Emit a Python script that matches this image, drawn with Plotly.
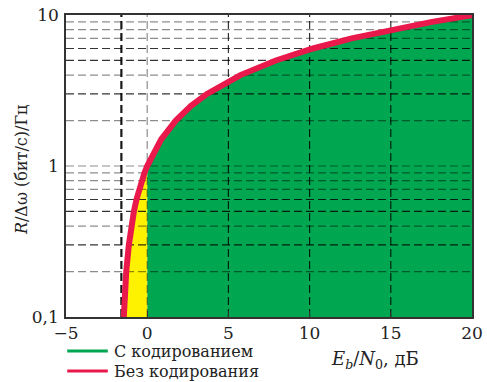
import plotly.graph_objects as go

# Spectral efficiency R/Δω (bit/s/Hz) and the required Eb/N0 (dB) on the limit curve
spectral_eff = [0.1, 0.15, 0.2, 0.3, 0.4, 0.5, 0.6, 0.7, 0.8, 0.9, 1.0,
                1.5, 2.0, 2.5, 3.0, 4.0, 5.0, 6.0, 7.0, 8.0, 9.0, 10.0]
ebn0_db = [-1.44, -1.36, -1.29, -1.13, -0.98, -0.82, -0.66, -0.50, -0.33, -0.17, 0.0,
           0.86, 1.76, 2.70, 3.68, 5.74, 7.92, 10.21, 12.59, 15.03, 17.54, 20.10]

shannon_limit_db = -1.59

x_tick_vals = [-5, 0, 5, 10, 15, 20]
x_tick_text = ["\u22125", "0", "5", "10", "15", "20"]
y_tick_vals = [0.1, 1, 10]
y_tick_text = ["0,1", "1", "10"]

x_range = [-5, 20]
y_range = [0.1, 10]

# horizontal grid levels (log minor lines), split by shade
h_grid_dark = [0.3, 0.5, 0.6, 3, 5, 6]
h_grid_gray = [0.2, 0.4, 0.7, 0.8, 0.9, 1, 2, 4, 7, 8, 9]
v_grid_dark = [5, 10, 15]
v_grid_gray = [0]

legend_names = ["С кодированием", "Без кодирования"]

GREEN = "#00a650"
YELLOW = "#fff200"
RED = "#e9194b"
FONT = "DejaVu Serif"

# split the curve at R/Δω = 1 (Eb/N0 = 0 dB)
i1 = spectral_eff.index(1.0)
low_r, low_x = spectral_eff[:i1 + 1], ebn0_db[:i1 + 1]
high_r, high_x = spectral_eff[i1:], ebn0_db[i1:]

fig = go.Figure()

# green region: right of 0 dB and under the curve
gx = [0, 0] + high_x + [x_range[1], x_range[1]]
gy = [y_range[0], 1] + high_r + [y_range[1], y_range[0]]
fig.add_trace(go.Scatter(x=gx, y=gy, fill="toself", fillcolor=GREEN, mode="none",
                         showlegend=False, hoverinfo="skip"))

# yellow region: between the curve and 0 dB below R/Δω = 1
yx = low_x + [0, 0]
yy = low_r + [1, y_range[0]]
fig.add_trace(go.Scatter(x=yx, y=yy, fill="toself", fillcolor=YELLOW, mode="none",
                         showlegend=False, hoverinfo="skip"))


def hlines(levels):
    xs, ys = [], []
    for v in levels:
        xs += [x_range[0], x_range[1], None]
        ys += [v, v, None]
    return xs, ys


def vlines(levels):
    xs, ys = [], []
    for v in levels:
        xs += [v, v, None]
        ys += [y_range[0], y_range[1], None]
    return xs, ys


for xs_ys, color, width in [
    (hlines(h_grid_gray), "rgba(0,0,0,0.45)", 1.2),
    (hlines(h_grid_dark), "rgba(0,0,0,0.8)", 1.2),
    (vlines(v_grid_gray), "rgba(0,0,0,0.45)", 1.2),
    (vlines(v_grid_dark), "rgba(0,0,0,0.8)", 1.2),
    (vlines([shannon_limit_db]), "rgba(0,0,0,0.9)", 2.2),
]:
    fig.add_trace(go.Scatter(x=xs_ys[0], y=xs_ys[1], mode="lines",
                             line=dict(color=color, width=width, dash="8px,4px"),
                             showlegend=False, hoverinfo="skip"))

# the limit curve
fig.add_trace(go.Scatter(x=ebn0_db, y=spectral_eff, mode="lines",
                         line=dict(color=RED, width=6), showlegend=False))

# hand-placed legend below the plot
legend_shapes = []
legend_notes = []
for name, color, ypos in zip(legend_names, [GREEN, RED], [-0.1126, -0.179]):
    legend_shapes.append(dict(type="line", xref="paper", yref="paper",
                              x0=0.003, x1=0.103, y0=ypos, y1=ypos,
                              line=dict(color=color, width=3)))
    legend_notes.append(dict(text=name, xref="paper", yref="paper", x=0.113, y=ypos,
                             xanchor="left", yanchor="middle", showarrow=False,
                             font=dict(size=16, family=FONT, color="#222")))

fig.update_layout(
    width=487, height=382,
    margin=dict(l=66, r=15, t=15, b=65, autoexpand=False),
    paper_bgcolor="white", plot_bgcolor="white",
    font=dict(family=FONT, size=17, color="#222"),
    showlegend=False,
    xaxis=dict(range=x_range, tickvals=x_tick_vals, ticktext=x_tick_text,
               showgrid=False, zeroline=False, showline=True, mirror=True,
               linecolor="#333", linewidth=1.5, ticks="inside", ticklen=6,
               tickcolor="#333", layer="above traces", automargin=False,
               tickfont=dict(family=FONT, size=17)),
    yaxis=dict(type="log", range=[-1, 1], tickvals=y_tick_vals, ticktext=y_tick_text,
               showgrid=False, zeroline=False, showline=True, mirror=True,
               linecolor="#333", linewidth=1.5, ticks="", layer="above traces",
               automargin=False, tickfont=dict(family=FONT, size=17), ticklabelstandoff=2),
    shapes=legend_shapes,
    annotations=[
        dict(text="<i>R</i>/Δω (бит/с)/Гц", xref="paper", yref="paper",
             x=-0.108, y=0.487, textangle=-90, showarrow=False,
             xanchor="center", yanchor="middle", font=dict(size=16, family=FONT)),
        dict(text="<i>E</i><sub><i>b</i></sub>/<i>N</i><sub>0</sub>, дБ",
             xref="paper", yref="paper", x=0.761, y=-0.142, showarrow=False,
             xanchor="center", yanchor="middle", font=dict(size=18, family=FONT)),
    ] + legend_notes,
)

fig.write_html("out.html")
